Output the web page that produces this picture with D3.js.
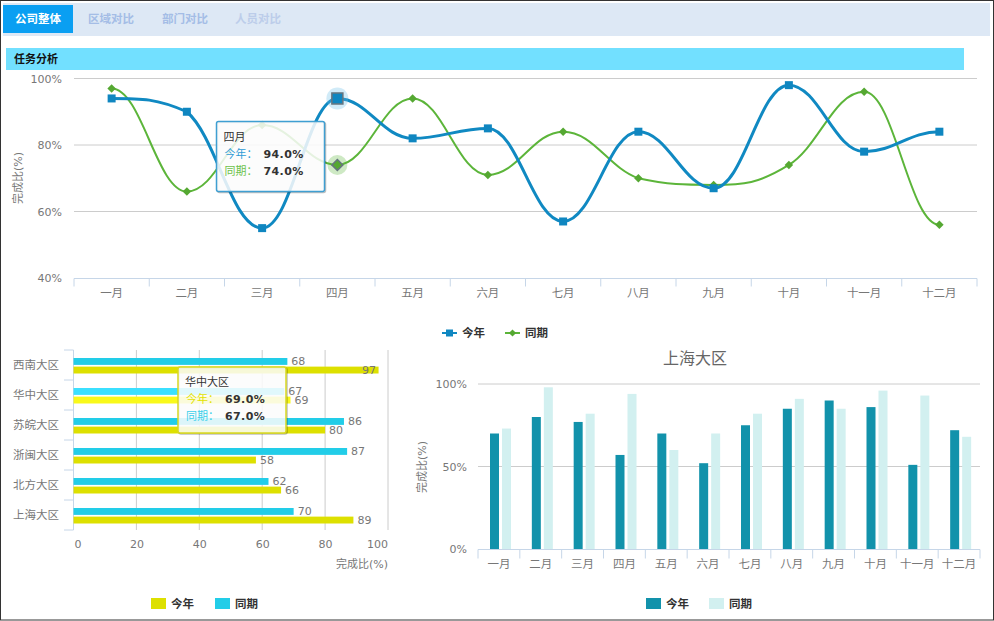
<!DOCTYPE html>
<html>
<head>
  <meta charset="utf-8">
  <script src="https://cdn.jsdelivr.net/npm/d3@7"></script>
  <style>
    html, body { margin: 0; padding: 0; background: #fff; }
    svg { display: block; }
    text { font-family: "DejaVu Sans", "Noto Sans CJK SC", sans-serif; }
  </style>
</head>
<body>
<svg id="chart" width="994" height="621"></svg>
<script>
  var months = ["一月","二月","三月","四月","五月","六月","七月","八月","九月","十月","十一月","十二月"]
  var thisYear = [94,90,55,94,82,85,57,84,67,98,78,84]
  var lastYear = [97,66,86,74,94,71,84,70,68,74,96,56]

  var regions = ["西南大区","华中大区","苏皖大区","浙闽大区","北方大区","上海大区"]
  var regionThisYear = [97,69,80,58,66,89]
  var regionLastYear = [68,67,86,87,62,70]

  var shanghaiThisYear = [70,80,77,57,70,52,75,85,90,86,51,72]
  var shanghaiLastYear = [73,98,82,94,60,70,82,91,85,96,93,68]

  var tabs = ["公司整体","区域对比","部门对比","人员对比"]
  var topTicks = [40,60,80,100]
  var barTicks = [0,20,40,60,80,100]
  var shanghaiTicks = [0,50,100]

  var axisBlue = "#c6d6e8", gridGray = "#cccccc", textGray = "#777777"
  var lineBlue = "#1089c2", lineGreen = "#5cb53a"
  var svg = d3.select("#chart")

  // page frame, tabs, section header
  svg.append("rect").attr("x",0.5).attr("y",0.5).attr("width",993).attr("height",619.5)
    .attr("fill","#fff").attr("stroke","#333")
  svg.append("rect").attr("x",3).attr("y",3).attr("width",987).attr("height",33).attr("fill","#dde8f5")
  svg.append("rect").attr("x",3).attr("y",5).attr("width",70).attr("height",28).attr("fill","#0a9ff2")
  var tabX = [38,111,185,258], tabColor = ["#fff","#a4bde6","#a4bde6","#bccdea"]
  svg.selectAll(".tab").data(tabs).join("text").attr("class","tab")
    .attr("x",(d,i)=>tabX[i]).attr("y",23).attr("text-anchor","middle")
    .attr("font-size",11.5).attr("font-weight","bold").attr("fill",(d,i)=>tabColor[i]).text(d=>d)
  svg.append("rect").attr("x",6).attr("y",48).attr("width",958).attr("height",22).attr("fill","#72e0ff")
  svg.append("text").attr("x",14).attr("y",63).attr("font-size",11).attr("font-weight","bold").attr("fill","#111").text("任务分析")

  function styleAxisText(g, size) {
    g.selectAll("text").attr("font-size",size || 11).attr("fill",textGray)
    g.select(".domain").remove()
  }

  // draws band boundaries as tick marks, the way the original axes have them
  function bandTicks(x0, x1, n, y, len) {
    var edges = d3.range(n+1).map(i => x0 + (x1-x0)*i/n)
    svg.append("g").selectAll("line").data(edges).join("line")
      .attr("x1",d=>d).attr("x2",d=>d).attr("y1",y).attr("y2",y+len).attr("stroke",axisBlue)
    svg.append("line").attr("x1",x0).attr("x2",x1).attr("y1",y).attr("y2",y).attr("stroke",axisBlue)
  }

  function legend(items, y) {
    items.forEach(function(d) {
      if (d.type == "rect") {
        svg.append("rect").attr("x",d.x).attr("y",y-6).attr("width",15).attr("height",11).attr("fill",d.color)
      } else {
        svg.append("line").attr("x1",d.x).attr("x2",d.x+15).attr("y1",y).attr("y2",y).attr("stroke",d.color).attr("stroke-width",2)
        svg.append("path").attr("d",d3.symbol(d3.symbolSquare,d.type=="square"?49:26)())
          .attr("transform","translate("+(d.x+7.5)+","+y+")"+(d.type=="diamond"?" rotate(45)":"")).attr("fill",d.marker)
      }
      svg.append("text").attr("x",d.x+20).attr("y",y+4).attr("font-size",11.5).attr("font-weight","bold").attr("fill","#333").text(d.label)
    })
  }

  function tooltip(x, y, w, h, border, title, rows) {
    svg.append("rect").attr("x",x+1).attr("y",y+1).attr("width",w).attr("height",h).attr("rx",2)
      .attr("fill","none").attr("stroke","#000").attr("stroke-opacity",0.25).attr("stroke-width",1.5)
    svg.append("rect").attr("x",x).attr("y",y).attr("width",w).attr("height",h).attr("rx",2)
      .attr("fill","#fbfbfb").attr("fill-opacity",0.86).attr("stroke",border).attr("stroke-width",1.5)
    svg.append("text").attr("x",x+7).attr("y",y+19).attr("font-size",11).attr("fill","#333").text(title)
    rows.forEach(function(r,i) {
      var ry = y + 36 + i*17
      svg.append("text").attr("x",x+8).attr("y",ry).attr("font-size",11).attr("fill",r.color).text(r.label+"：")
      svg.append("text").attr("x",x+47).attr("y",ry).attr("font-size",11).attr("font-weight","bold")
        .attr("letter-spacing",0.4).attr("fill","#333").text(r.value.toFixed(1)+"%")
    })
  }

  // ---- top line chart ----
  var topX = d3.scaleBand().domain(months).range([74,977])
  var topY = d3.scaleLinear().domain([40,100]).range([278,78.5])

  svg.append("g").selectAll("line").data(topTicks.slice(1)).join("line")
    .attr("x1",74).attr("x2",977).attr("y1",d=>topY(d)).attr("y2",d=>topY(d)).attr("stroke",gridGray)
  bandTicks(74,977,12,278.5,8)
  svg.append("g").attr("transform","translate(0,280)")
    .call(d3.axisBottom(topX).tickSize(0).tickPadding(9)).call(styleAxisText,11.5)
  svg.append("g").attr("transform","translate(65,0)")
    .call(d3.axisLeft(topY).tickValues(topTicks).tickFormat(d=>d+"%").tickSize(0)).call(styleAxisText)
  svg.append("text").attr("transform","translate(22,178) rotate(-90)").attr("text-anchor","middle")
    .attr("font-size",11).attr("fill",textGray).text("完成比(%)")

  // smooth line: flat at peaks and dips, control points kept between neighbours
  function smoothPath(values) {
    var p = d3.path(), h = topX.step()*0.4
    var xs = values.map((v,i)=>topX(months[i])+topX.bandwidth()/2)
    function slope(i) {
      if (i==0 || i==values.length-1) return 0
      var a = values[i]-values[i-1], b = values[i+1]-values[i]
      return a*b <= 0 ? 0 : (values[i+1]-values[i-1])*0.2
    }
    function clamp(v, a, b) { return Math.max(Math.min(a,b),Math.min(Math.max(a,b),v)) }
    p.moveTo(xs[0],topY(values[0]))
    for (var i=1;i<values.length;i++) {
      var c1 = clamp(values[i-1]+slope(i-1),values[i-1],values[i])
      var c2 = clamp(values[i]-slope(i),values[i-1],values[i])
      p.bezierCurveTo(xs[i-1]+h,topY(c1),xs[i]-h,topY(c2),xs[i],topY(values[i]))
    }
    return p.toString()
  }
  svg.append("path").attr("d",smoothPath(lastYear)).attr("fill","none").attr("stroke",lineGreen).attr("stroke-width",2)
  svg.append("path").attr("d",smoothPath(thisYear)).attr("fill","none").attr("stroke",lineBlue).attr("stroke-width",3)

  var hover = 3
  function marker(values, size, fill, rotate, hoverSize, haloR, haloColor) {
    values.forEach(function(v,i) {
      var cx = topX(months[i])+topX.bandwidth()/2, cy = topY(v)
      var big = i == hover
      if (big) svg.append("circle").attr("cx",cx).attr("cy",cy).attr("r",haloR).attr("fill",haloColor).attr("opacity",0.3)
      svg.append("path").attr("d",d3.symbol(d3.symbolSquare,big?hoverSize:size)())
        .attr("transform","translate("+cx+","+cy+")"+(rotate?" rotate(45)":""))
        .attr("fill",fill).attr("stroke",big?"#66757f":"none").attr("stroke-width",big?1.5:0)
    })
  }
  marker(lastYear,36,"#55a832",true,60,10,lineGreen)
  marker(thisYear,64,"#0f86c0",false,121,11,"#68bde8")

  tooltip(216.5,121.5,108,70,"#3f9fd2","四月",[
    {label:"今年",value:thisYear[hover],color:"#2f9bd6"},
    {label:"同期",value:lastYear[hover],color:"#6cc24a"}])

  legend([{type:"square",x:442,color:lineBlue,marker:"#0f86c0",label:"今年"},
          {type:"diamond",x:505,color:lineGreen,marker:"#55a832",label:"同期"}],333)

  // ---- region bars ----
  var barX = d3.scaleLinear().domain([0,100]).range([73.5,388])
  var barY = d3.scaleBand().domain(regions).range([350,530])
  var barSub = d3.scaleBand().domain(["同期","今年"]).range([8,23.5]).paddingInner(0.2)

  svg.append("g").selectAll("line").data(barTicks.slice(1)).join("line")
    .attr("x1",d=>barX(d)).attr("x2",d=>barX(d)).attr("y1",350).attr("y2",530).attr("stroke",gridGray)
  svg.append("line").attr("x1",73.5).attr("x2",73.5).attr("y1",350).attr("y2",530).attr("stroke",axisBlue)
  svg.append("g").selectAll("line").data(d3.range(7)).join("line")
    .attr("x1",64).attr("x2",73.5).attr("y1",d=>350+d*barY.step()).attr("y2",d=>350+d*barY.step()).attr("stroke",axisBlue)
  svg.append("g").attr("transform","translate(59,0)")
    .call(d3.axisLeft(barY).tickSize(0).tickPadding(0)).call(styleAxisText,11.5)
  // end labels sit inside the plot width, as in the original
  svg.append("g").attr("transform","translate(0,535)")
    .call(d3.axisBottom(barX).tickValues(barTicks).tickSize(0).tickPadding(5)).call(styleAxisText)
    .selectAll("text").attr("dx",d=>d==0?4:d==100?-11:0)
  svg.append("text").attr("x",388).attr("y",568).attr("text-anchor","end").attr("font-size",11).attr("fill",textGray).text("完成比(%)")

  var hoverRegion = 1
  var barSeries = [
    {name:"同期",values:regionLastYear,color:"#22cde8",bright:"#3be0ff"},
    {name:"今年",values:regionThisYear,color:"#dde000",bright:"#f9f91a"}]
  barSeries.forEach(function(s) {
    svg.append("g").selectAll("rect").data(s.values).join("rect")
      .attr("x",barX(0)).attr("y",(d,i)=>barY(regions[i])+barSub(s.name))
      .attr("width",d=>barX(d)-barX(0)).attr("height",barSub.bandwidth())
      .attr("fill",(d,i)=>i==hoverRegion?s.bright:s.color)
    svg.append("g").selectAll("text").data(s.values).join("text")
      .attr("x",d=>Math.min(barX(d)+4,barX(100)-26))
      .attr("y",(d,i)=>barY(regions[i])+barSub(s.name)+barSub.bandwidth()/2+4)
      .attr("font-size",11).attr("fill",textGray).text(d=>d)
  })

  tooltip(178,367,108,66,"#d8d820","华中大区",[
    {label:"今年",value:regionThisYear[hoverRegion],color:"#e2e200"},
    {label:"同期",value:regionLastYear[hoverRegion],color:"#3ad0ea"}])

  legend([{type:"rect",x:151,color:"#dde000",label:"今年"},
          {type:"rect",x:215,color:"#22cde8",label:"同期"}],604)

  // ---- shanghai bars ----
  var colX = d3.scaleBand().domain(months).range([478,980])
  var colSub = d3.scaleBand().domain(["今年","同期"]).range([12,33]).paddingInner(0.25)
  var colY = d3.scaleLinear().domain([0,100]).range([549,384])

  svg.append("text").attr("x",695).attr("y",364).attr("text-anchor","middle").attr("font-size",16).attr("fill","#666").text("上海大区")
  svg.append("g").selectAll("line").data(shanghaiTicks.slice(1)).join("line")
    .attr("x1",478).attr("x2",980).attr("y1",d=>colY(d)).attr("y2",d=>colY(d)).attr("stroke",gridGray)
  bandTicks(478,980,12,549.5,9)
  svg.append("g").attr("transform","translate(0,550)")
    .call(d3.axisBottom(colX).tickSize(0).tickPadding(10)).call(styleAxisText,11.5)
  svg.append("g").attr("transform","translate(470,0)")
    .call(d3.axisLeft(colY).tickValues(shanghaiTicks).tickFormat(d=>d+"%").tickSize(0)).call(styleAxisText)
  svg.append("text").attr("transform","translate(426,467) rotate(-90)").attr("text-anchor","middle")
    .attr("font-size",11).attr("fill",textGray).text("完成比(%)")

  var colSeries = [
    {name:"今年",values:shanghaiThisYear,color:"#1292ab"},
    {name:"同期",values:shanghaiLastYear,color:"#d2f0f0"}]
  colSeries.forEach(function(s) {
    svg.append("g").selectAll("rect").data(s.values).join("rect")
      .attr("x",(d,i)=>colX(months[i])+colSub(s.name)).attr("y",d=>colY(d))
      .attr("width",colSub.bandwidth()).attr("height",d=>colY(0)-colY(d)).attr("fill",s.color)
  })

  legend([{type:"rect",x:646,color:"#1292ab",label:"今年"},
          {type:"rect",x:709,color:"#d2f0f0",label:"同期"}],604)
</script>
</body>
</html>
